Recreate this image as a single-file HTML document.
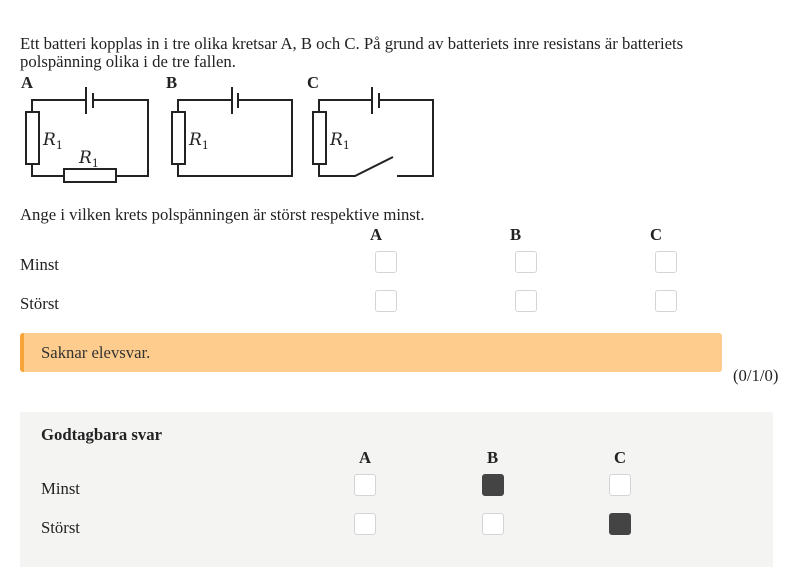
<!DOCTYPE html>
<html><head><meta charset="utf-8"><style>
body{margin:0;width:800px;height:577px;background:#fff;position:relative;overflow:hidden;font-family:"Liberation Serif",serif;color:#222;font-size:16.7px}
.t{position:absolute;white-space:nowrap;line-height:18px}
.b{font-weight:bold}
.cb{position:absolute;width:20px;height:20px;border:1px solid #d4d4d4;border-radius:3px;background:#fff}
.f{background:#444;border-color:#444}
</style></head><body>
<div class="t" style="left:20px;top:35px">Ett batteri kopplas in i tre olika kretsar A, B och C. På grund av batteriets inre resistans är batteriets</div>
<div class="t" style="left:20px;top:53px">polspänning olika i de tre fallen.</div>
<div class="t b" style="left:21px;top:74px">A</div>
<div class="t b" style="left:166px;top:74px">B</div>
<div class="t b" style="left:307px;top:74px">C</div>
<svg style="position:absolute;left:0;top:0" width="800" height="200">
<g fill="none" stroke="#222" stroke-width="2">
<path d="M86,100H32V176H148V100H93"/><line x1="86" y1="87" x2="86" y2="114"/><line x1="93" y1="93" x2="93" y2="108"/>
<rect x="26" y="112" width="13" height="52" fill="#fff"/><rect x="64" y="169" width="52" height="13" fill="#fff"/>
<path d="M232,100H178V176H292V100H238"/><line x1="232" y1="87" x2="232" y2="114"/><line x1="238" y1="93" x2="238" y2="108"/>
<rect x="172" y="112" width="13" height="52" fill="#fff"/>
<path d="M372,100H319V176H355L393,157M397,176H433V100H379"/><line x1="372" y1="87" x2="372" y2="114"/><line x1="379" y1="93" x2="379" y2="108"/>
<rect x="313" y="112" width="13" height="52" fill="#fff"/>
</g>
<g font-family="DejaVu Serif,serif" font-style="italic" font-size="17" fill="#222">
<text x="43" y="145">R<tspan font-size="11" font-style="normal" dy="4">1</tspan></text>
<text x="79" y="163">R<tspan font-size="11" font-style="normal" dy="4">1</tspan></text>
<text x="189" y="145">R<tspan font-size="11" font-style="normal" dy="4">1</tspan></text>
<text x="330" y="145">R<tspan font-size="11" font-style="normal" dy="4">1</tspan></text>
</g></svg>
<div class="t" style="left:20px;top:206px">Ange i vilken krets polspänningen är störst respektive minst.</div>
<div class="t b" style="left:370px;top:226px">A</div>
<div class="t b" style="left:510px;top:226px">B</div>
<div class="t b" style="left:650px;top:226px">C</div>
<div class="t" style="left:20px;top:256px">Minst</div>
<div class="t" style="left:20px;top:295px">Störst</div>
<div class="cb" style="left:375px;top:251px"></div><div class="cb" style="left:515px;top:251px"></div><div class="cb" style="left:655px;top:251px"></div>
<div class="cb" style="left:375px;top:290px"></div><div class="cb" style="left:515px;top:290px"></div><div class="cb" style="left:655px;top:290px"></div>
<div style="position:absolute;left:20px;top:333px;width:698px;height:39px;background:#fecc8c;border-left:4px solid #f5a53a;border-radius:3px"></div>
<div class="t" style="left:41px;top:344px;color:#333">Saknar elevsvar.</div>
<div class="t" style="left:733px;top:367px">(0/1/0)</div>
<div style="position:absolute;left:20px;top:412px;width:753px;height:155px;background:#f4f5f3"></div>
<div class="t b" style="left:41px;top:426px">Godtagbara svar</div>
<div class="t b" style="left:359px;top:449px">A</div>
<div class="t b" style="left:487px;top:449px">B</div>
<div class="t b" style="left:614px;top:449px">C</div>
<div class="t" style="left:41px;top:480px">Minst</div>
<div class="t" style="left:41px;top:519px">Störst</div>
<div class="cb" style="left:354px;top:474px"></div><div class="cb f" style="left:482px;top:474px"></div><div class="cb" style="left:609px;top:474px"></div>
<div class="cb" style="left:354px;top:513px"></div><div class="cb" style="left:482px;top:513px"></div><div class="cb f" style="left:609px;top:513px"></div>
</body></html>
